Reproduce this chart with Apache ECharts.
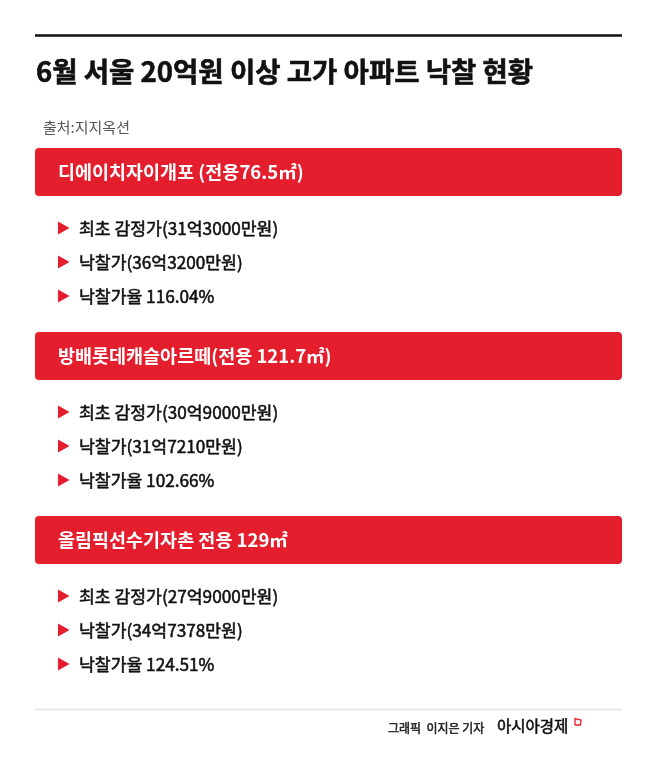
<!DOCTYPE html>
<html>
<head>
<meta charset="utf-8">
<script src="https://cdn.jsdelivr.net/npm/echarts@6/dist/echarts.min.js"></script>
<style>
  html, body { margin: 0; padding: 0; background: #fff; }
  #chart { width: 658px; height: 779px; }
</style>
</head>
<body>
<div id="chart"></div>
<script>
// data
const title = '6월 서울 20억원 이상 고가 아파트 낙찰 현황';
const source = '출처:지지옥션';
const complexes = ['디에이치자이개포 (전용76.5㎡)', '방배롯데캐슬아르떼(전용 121.7㎡)', '올림픽선수기자촌 전용 129㎡'];
const appraisal = ['31억3000만원', '30억9000만원', '27억9000만원'];
const winningBid = ['36억3200만원', '31억7210만원', '34억7378만원'];
const bidRate = ['116.04', '102.66', '124.51'];
const credit = '그래픽  이지은 기자';
const brand = '아시아경제';

const RED = '#e41e2d';
const FONT = '"Noto Sans CJK KR", "Noto Sans", sans-serif';
const L = 35, R = 622;

const chart = echarts.init(document.getElementById('chart'), null, { renderer: 'canvas' });

// medium weight isn't installed, so thicken regular text with a thin stroke
function medium(color, w) {
  return { fill: color, stroke: color, lineWidth: w };
}

const els = [];
els.push({ type: 'line', shape: { x1: L, y1: 35.5, x2: R, y2: 35.5 }, style: { stroke: '#111', lineWidth: 2.5 } });
els.push({ type: 'text', x: 36, y: 72, style: Object.assign({ text: title, font: 'bold 27.5px ' + FONT, textVerticalAlign: 'middle' }, medium('#111', 0.6)) });
els.push({ type: 'text', x: 43, y: 127, style: { text: source, font: '15px ' + FONT, fill: '#555', textVerticalAlign: 'middle' } });

const blockTop = [148, 332, 516];
complexes.forEach((name, i) => {
  const top = blockTop[i];
  els.push({ type: 'rect', shape: { x: L, y: top, width: R - L, height: 48, r: 4 }, style: { fill: RED } });
  els.push({ type: 'text', x: 58, y: top + 24, style: { text: name, font: 'bold 18.5px ' + FONT, fill: '#fff', textVerticalAlign: 'middle' } });
  const rows = [
    '최초 감정가(' + appraisal[i] + ')',
    '낙찰가(' + winningBid[i] + ')',
    '낙찰가율 ' + bidRate[i] + '%'
  ];
  rows.forEach((t, j) => {
    const cy = top + 80 + j * 34;
    els.push({ type: 'polygon', shape: { points: [[58, cy - 6.5], [69.5, cy], [58, cy + 6.5]] }, style: { fill: RED } });
    els.push({ type: 'text', x: 79, y: cy, style: Object.assign({ text: t, font: '17.2px ' + FONT, textVerticalAlign: 'middle' }, medium('#111', 0.55)) });
  });
});

els.push({ type: 'line', shape: { x1: L, y1: 709.5, x2: R, y2: 709.5 }, style: { stroke: '#e2e2e2', lineWidth: 1.5 } });
els.push({ type: 'text', x: 388, y: 728, style: Object.assign({ text: credit, font: '12px ' + FONT, textVerticalAlign: 'middle' }, medium('#222', 0.5)) });
els.push({ type: 'text', x: 497, y: 726, style: Object.assign({ text: brand, font: '15.5px ' + FONT, textVerticalAlign: 'middle' }, medium('#111', 0.6)) });
els.push({ type: 'polyline', shape: { points: [[575, 725], [575, 718.5], [581, 720], [580.5, 725], [575, 725]] }, style: { stroke: RED, lineWidth: 1.3, fill: null } });

chart.setOption({
  backgroundColor: '#fff',
  animation: false,
  graphic: { elements: els }
});
</script>
</body>
</html>
